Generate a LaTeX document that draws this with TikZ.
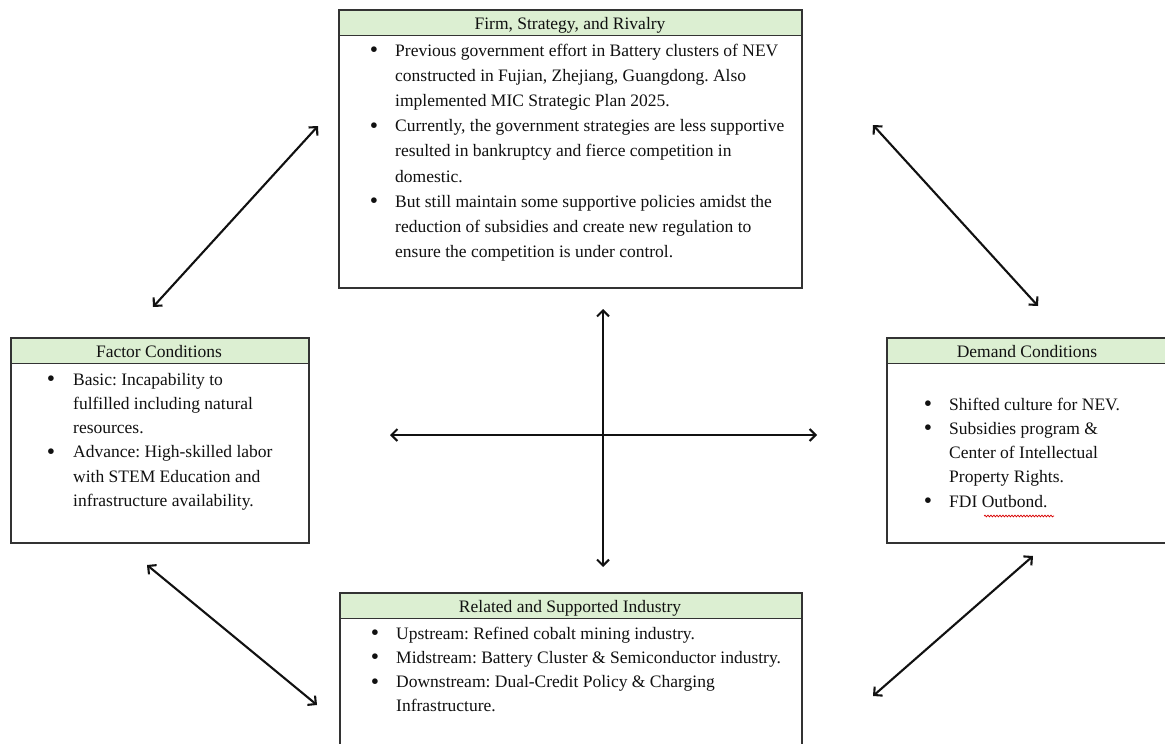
\documentclass[tikz,border=0pt]{standalone}
\usepackage{fontspec}
\setmainfont{Liberation Serif}
\usetikzlibrary{arrows.meta,decorations.pathmorphing}
\definecolor{hdr}{HTML}{DCEFD2}
\definecolor{edge}{HTML}{333333}
\definecolor{ink}{HTML}{111111}
\frenchspacing
\newcommand{\bigbul}{\raisebox{-1.6pt}{\scalebox{1.35}{\textbullet}}}
\begin{document}
\begin{tikzpicture}[x=1pt,y=-1pt,
  panel/.style={draw=edge,line width=1.5pt,fill=white,anchor=north west,inner sep=0pt},
  hdrbox/.style={draw=edge,line width=1.5pt,fill=hdr,anchor=north west,inner sep=0pt,minimum height=25.5pt},
  ttl/.style={font=\fontsize{17.5}{21}\selectfont,anchor=base,inner sep=0pt,text=ink},
  txt/.style={font=\fontsize{17.5}{21}\selectfont,anchor=base west,inner sep=0pt,text=ink},
  bul/.style={font=\fontsize{17.5}{21}\selectfont,anchor=base,inner sep=0pt,text=ink},
  link/.style={draw=ink,line width=2.1pt,{Straight Barb[length=6pt,width=12pt,line width=2.1pt]}-{Straight Barb[length=6pt,width=12pt,line width=2.1pt]}},
  squiggle/.style={draw=red!85!black,line width=0.7pt,decorate,decoration={snake,amplitude=0.9pt,segment length=3pt}}
]
\useasboundingbox (0,0) rectangle (1165,744);
\clip (0,0) rectangle (1165,744);

% ---------- Top box: Firm, Strategy, and Rivalry ----------
\node[panel,minimum width=463pt,minimum height=278pt] (firm) at (338,9) {};
\node[hdrbox,minimum width=463pt] (firmhead) at (338,9) {};
\node[ttl] (firmtitle) at (570,29.5) {Firm, Strategy, and Rivalry};
\foreach \t [count=\i] in {
  {Previous government effort in Battery clusters of NEV},
  {constructed in Fujian, Zhejiang, Guangdong. Also},
  {implemented MIC Strategic Plan 2025.},
  {Currently, the government strategies are less supportive},
  {resulted in bankruptcy and fierce competition in},
  {domestic.},
  {But still maintain some supportive policies amidst the},
  {reduction of subsidies and create new regulation to},
  {ensure the competition is under control.}}
  \node[txt] (firmline\i) at (395,{56+25.2*(\i-1)}) {\t};
\foreach \i in {1,4,7}
  \node[bul] (firmbul\i) at (374,{56+25.2*(\i-1)}) {\bigbul};

% ---------- Left box: Factor Conditions ----------
\node[panel,minimum width=298pt,minimum height=205pt] (factor) at (10,337) {};
\node[hdrbox,minimum width=298pt] (factorhead) at (10,337) {};
\node[ttl] (factortitle) at (159,357.5) {Factor Conditions};
\foreach \t [count=\i] in {
  {Basic: Incapability to},
  {fulfilled including natural},
  {resources.},
  {Advance: High-skilled labor},
  {with STEM Education and},
  {infrastructure availability.}}
  \node[txt] (factorline\i) at (73,{385+24.3*(\i-1)}) {\t};
\foreach \i in {1,4}
  \node[bul] (factorbul\i) at (51,{385+24.3*(\i-1)}) {\bigbul};

% ---------- Right box: Demand Conditions ----------
\node[panel,minimum width=282pt,minimum height=205pt] (demand) at (886,337) {};
\node[hdrbox,minimum width=282pt] (demandhead) at (886,337) {};
\node[ttl] (demandtitle) at (1027,357.5) {Demand Conditions};
\foreach \t [count=\i] in {
  {Shifted culture for NEV.},
  {Subsidies program \&},
  {Center of Intellectual},
  {Property Rights.},
  {FDI Outbond.}}
  \node[txt] (demandline\i) at (949,{410+24.3*(\i-1)}) {\t};
\foreach \i in {1,2,5}
  \node[bul] (demandbul\i) at (928,{410+24.3*(\i-1)}) {\bigbul};
\draw[squiggle] (984,516) -- (1054,516);

% ---------- Bottom box: Related and Supported Industry ----------
\node[panel,minimum width=462pt,minimum height=170pt] (related) at (339,592) {};
\node[hdrbox,minimum width=462pt] (relatedhead) at (339,592) {};
\node[ttl] (relatedtitle) at (570,612.5) {Related and Supported Industry};
\foreach \t [count=\i] in {
  {Upstream: Refined cobalt mining industry.},
  {Midstream: Battery Cluster \& Semiconductor industry.},
  {Downstream: Dual-Credit Policy \& Charging},
  {Infrastructure.}}
  \node[txt] (relatedline\i) at (396,{639+24.3*(\i-1)}) {\t};
\foreach \i in {1,2,3}
  \node[bul] (relatedbul\i) at (375,{639+24.3*(\i-1)}) {\bigbul};

% ---------- Connectors ----------
\coordinate (tlA) at (153,307);  \coordinate (tlB) at (318,126);
\coordinate (trA) at (873,125);  \coordinate (trB) at (1038,306);
\coordinate (vA)  at (603,309);  \coordinate (vB)  at (603,567);
\coordinate (hA)  at (390,435);  \coordinate (hB)  at (817,435);
\coordinate (blA) at (147,565);  \coordinate (blB) at (317,705);
\coordinate (brA) at (873,696);  \coordinate (brB) at (1033,556);
\draw[link] (tlA) -- (tlB);
\draw[link] (trA) -- (trB);
\draw[link] (vA) -- (vB);
\draw[link] (hA) -- (hB);
\draw[link] (blA) -- (blB);
\draw[link] (brA) -- (brB);
\end{tikzpicture}
\end{document}
